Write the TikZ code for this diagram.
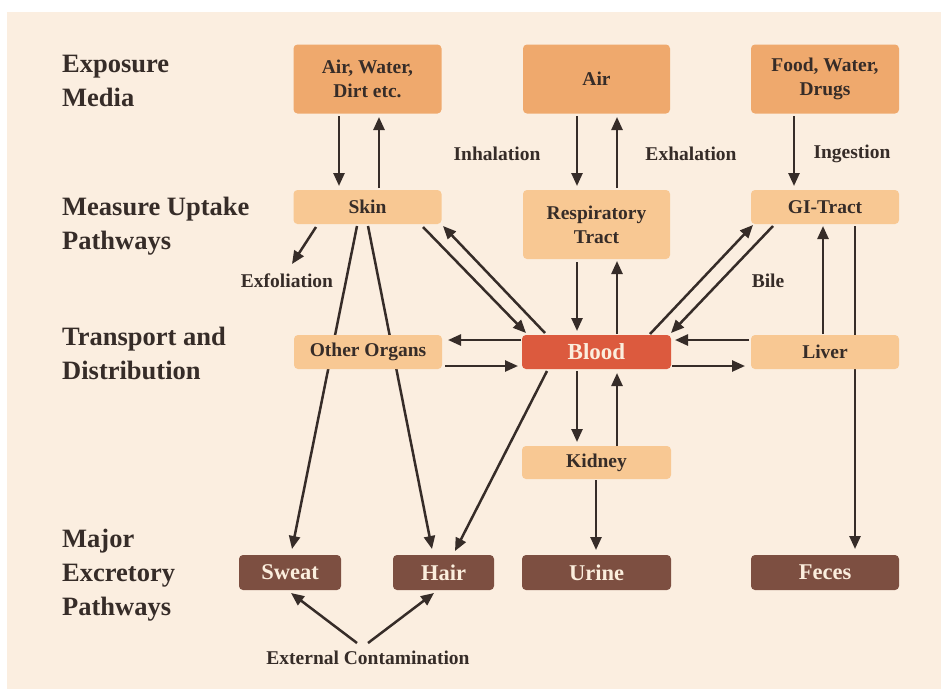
\documentclass[tikz,border=0pt]{standalone}
\usepackage{fontspec}
\setmainfont{Liberation Serif}
\usetikzlibrary{arrows.meta}
\definecolor{bgc}{HTML}{FBEEE0}
\definecolor{expc}{HTML}{EFA96D}
\definecolor{upc}{HTML}{F8C893}
\definecolor{bloodc}{HTML}{DC5A3E}
\definecolor{excc}{HTML}{7D4F41}
\definecolor{inkc}{HTML}{362C28}
\definecolor{lightc}{HTML}{FBEEDD}
\tikzset{
  box/.style={rounded corners=4pt, inner sep=0pt, align=center, font=\fontsize{19.5}{24}\selectfont\bfseries, text=inkc},
  expbox/.style={box, fill=expc},
  upbox/.style={box, fill=upc},
  bloodbox/.style={box, fill=bloodc, text=lightc, font=\fontsize{23}{26}\selectfont\bfseries},
  excbox/.style={box, fill=excc, text=lightc, font=\fontsize{22.5}{26}\selectfont\bfseries},
  lbl/.style={font=\fontsize{19.5}{24}\selectfont\bfseries, text=inkc, inner sep=0pt},
  head/.style={font=\fontsize{26.5}{34}\selectfont\bfseries, text=inkc, align=left, anchor=north west, inner sep=0pt},
  arr/.style={draw=inkc, line width=2.5pt, -{Triangle[length=13pt,width=11pt]}},
  ln/.style={draw=inkc, line width=2.5pt}
}
\begin{document}
\begin{tikzpicture}[x=1pt,y=-1pt]
\useasboundingbox (0,0) rectangle (941,689);
\fill[bgc] (7,12) rectangle (941,689);
% headings
\node[head] (h1) at (62,55) {Exposure\\Media};
\node[head] (h2) at (62,197) {Measure Uptake\\Pathways};
\node[head] (h3) at (62,327) {Transport and\\Distribution};
\node[head] (h4) at (62,529) {Major\\Excretory\\Pathways};
% coordinates for lines drawn behind boxes
\coordinate (sk1) at (357,226);
\coordinate (sk2) at (368,226);
\coordinate (swt) at (292,549);
\coordinate (hrt) at (432,549);
\coordinate (gib) at (855,226);
\coordinate (fct) at (855,549);
\draw[arr] (sk1) -- (swt);
\draw[arr] (sk2) -- (hrt);
\draw[arr] (gib) -- (fct);
% exposure
\node[expbox, minimum width=148pt, minimum height=69pt] (awd) at (367.5,79) {Air, Water,\\Dirt etc.};
\node[expbox, minimum width=147pt, minimum height=69pt] (air) at (596.5,79) {Air};
\node[expbox, minimum width=148pt, minimum height=69pt] (fwd) at (825,79) {Food, Water,\\Drugs};
% uptake
\node[upbox, minimum width=148pt, minimum height=34pt] (skin) at (367.5,207) {Skin};
\node[upbox, minimum width=147pt, minimum height=69pt] (resp) at (596.5,224.5) {Respiratory\\Tract};
\node[upbox, minimum width=148pt, minimum height=34pt] (gi) at (825,207) {GI-Tract};
% transport
\node[upbox, minimum width=148pt, minimum height=34pt] (oth) at (368,352) {Other Organs};
\node[bloodbox, minimum width=149pt, minimum height=34pt] (blood) at (596.5,352) {Blood};
\node[upbox, minimum width=148pt, minimum height=34pt] (liver) at (825,352) {Liver};
\node[upbox, minimum width=149pt, minimum height=33pt] (kid) at (596.5,462.5) {Kidney};
% excretory
\node[excbox, minimum width=102pt, minimum height=35pt] (sweat) at (290,572.5) {Sweat};
\node[excbox, minimum width=101pt, minimum height=35pt] (hair) at (443.5,572.5) {Hair};
\node[excbox, minimum width=149pt, minimum height=35pt] (urine) at (596.5,572.5) {Urine};
\node[excbox, minimum width=148pt, minimum height=35pt] (feces) at (825,572.5) {Feces};
% labels
\node[lbl] (inh) at (497,154) {Inhalation};
\node[lbl] (exh) at (691,154) {Exhalation};
\node[lbl] (ing) at (852,154) {Ingestion};
\node[lbl] (exf) at (287,281) {Exfoliation};
\node[lbl] (bile) at (768,281) {Bile};
\node[lbl] (ext) at (368,658) {External Contamination};
% exposure arrows
\draw[arr] (339,116) -- (339,186);
\draw[arr] (379,188) -- (379,117);
\draw[arr] (577,116) -- (577,186);
\draw[arr] (617,188) -- (617,117);
\draw[arr] (794,116) -- (794,186);
% skin arrows
\coordinate (exft) at (292,264);
\draw[arr] (316,227) -- (exft);
\draw[arr] (423,227) -- (526,333);
\draw[arr] (545,333) -- (443,226);
% resp-blood
\draw[arr] (577,262) -- (577,331);
\draw[arr] (617,334) -- (617,261);
% blood-gi
\draw[arr] (650,334) -- (753,225);
\draw[arr] (773,226) -- (671,333);
% liver-gi
\draw[arr] (823,334) -- (823,226);
% horizontal
\draw[arr] (749,340) -- (675,340);
\draw[arr] (672,366) -- (745,366);
\draw[arr] (521,340) -- (448,340);
\draw[arr] (445,366) -- (518,366);
% blood-kidney
\draw[arr] (577,371) -- (577,442);
\draw[arr] (617,446) -- (617,373);
% blood-hair
\draw[arr] (547,371) -- (455,551);
% kidney-urine
\draw[arr] (596,480) -- (596,550);
% external contamination
\draw[arr] (357,643) -- (291,593);
\draw[arr] (368,643) -- (434,593);
\end{tikzpicture}
\end{document}
